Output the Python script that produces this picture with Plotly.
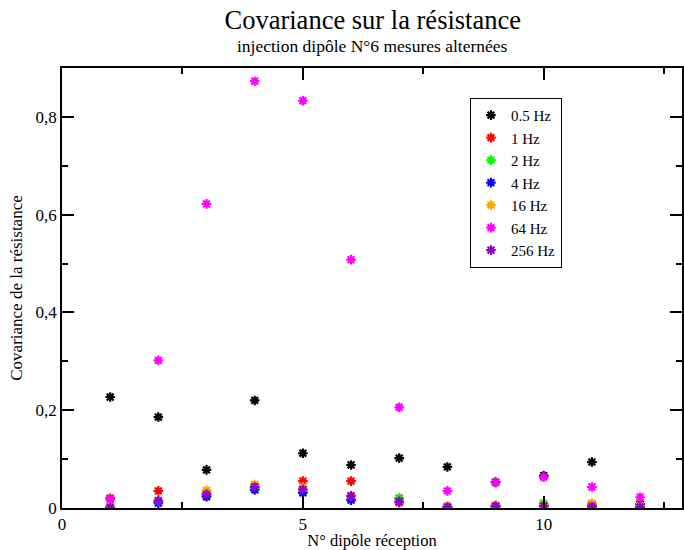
import plotly.graph_objects as go

dipoles = [1, 2, 3, 4, 5, 6, 7, 8, 9, 10, 11, 12]
series_names = ["0.5 Hz", "1 Hz", "2 Hz", "4 Hz", "16 Hz", "64 Hz", "256 Hz"]
cov_05hz = [0.227, 0.186, 0.078, 0.220, 0.112, 0.088, 0.102, 0.084, 0.053, 0.066, 0.094, 0.008]
cov_1hz = [0.020, 0.035, 0.030, 0.045, 0.055, 0.055, 0.020, 0.003, 0.005, 0.006, 0.008, 0.005]
cov_2hz = [0.003, 0.013, 0.025, 0.040, 0.033, 0.018, 0.020, 0.002, 0.004, 0.010, 0.006, 0.003]
cov_4hz = [0.002, 0.010, 0.023, 0.037, 0.031, 0.016, 0.013, 0.002, 0.003, 0.005, 0.004, 0.002]
cov_16hz = [0.003, 0.015, 0.036, 0.048, 0.043, 0.025, 0.010, 0.003, 0.005, 0.006, 0.010, 0.004]
cov_64hz = [0.018, 0.302, 0.622, 0.873, 0.833, 0.508, 0.206, 0.035, 0.052, 0.063, 0.043, 0.022]
cov_256hz = [0.001, 0.015, 0.028, 0.043, 0.038, 0.025, 0.012, 0.002, 0.004, 0.004, 0.003, 0.002]
series_values = [cov_05hz, cov_1hz, cov_2hz, cov_4hz, cov_16hz, cov_64hz, cov_256hz]
colors = ["#000000", "#ff0000", "#00ff00", "#0000ff", "#ffa500", "#ff00ff", "#9400d3"]

y_tickvals = [0, 0.2, 0.4, 0.6, 0.8]
y_ticktext = ["0", "0,2", "0,4", "0,6", "0,8"]
x_tickvals = [0, 5, 10]

SERIF = "Liberation Serif"

fig = go.Figure()
for name, vals, col in zip(series_names, series_values, colors):
    fig.add_trace(go.Scatter(
        x=dipoles, y=vals, mode="markers", name=name,
        marker=dict(symbol="asterisk", size=8, color=col,
                    line=dict(color=col, width=2.2)),
    ))

axis_common = dict(
    showline=True, linecolor="black", linewidth=1.5, mirror="ticks",
    ticks="inside", ticklen=12, tickwidth=1.5, tickcolor="black",
    showgrid=False, zeroline=False,
    tickfont=dict(family=SERIF, size=17, color="black"),
)

fig.update_layout(
    width=684, height=550,
    margin=dict(l=62, r=0, t=68, b=41),
    paper_bgcolor="white", plot_bgcolor="white",
    separators=",.",
    font=dict(family=SERIF, color="black"),
    title=dict(
        text="Covariance sur la résistance",
        x=0.545, xanchor="center", y=0.9636, yanchor="middle",
        font=dict(family=SERIF, size=26.5, color="black"),
    ),
    annotations=[dict(
        text="injection dipôle N°6 mesures alternées",
        xref="paper", yref="paper", x=0.5, y=1.0, yshift=22,
        xanchor="center", yanchor="middle", showarrow=False,
        font=dict(family=SERIF, size=17.5, color="black"),
    )],
    xaxis=dict(
        range=[0, 12.87], tickvals=x_tickvals,
        minor=dict(tickvals=[2.5, 7.5, 12.5], ticks="inside", ticklen=6, tickwidth=1.5, tickcolor="black"),
        title=dict(text="N° dipôle réception", font=dict(family=SERIF, size=16.5), standoff=4),
        **axis_common,
    ),
    yaxis=dict(
        range=[0, 0.9], tickvals=y_tickvals, ticktext=y_ticktext,
        minor=dict(tickvals=[0.1, 0.3, 0.5, 0.7], ticks="inside", ticklen=6, tickwidth=1.5, tickcolor="black"),
        title=dict(text="Covariance de la résistance", font=dict(family=SERIF, size=17), standoff=9),
        **axis_common,
    ),
    showlegend=True,
    legend=dict(
        x=0.658, y=0.932, xanchor="left", yanchor="top",
        bgcolor="white", bordercolor="black", borderwidth=1,
        font=dict(family=SERIF, size=15, color="black"),
        itemwidth=30, tracegroupgap=0,
    ),
)

fig.write_html("out.html", config={"displayModeBar": False},
               post_script="document.body.style.margin='0';document.body.style.padding='0';")
